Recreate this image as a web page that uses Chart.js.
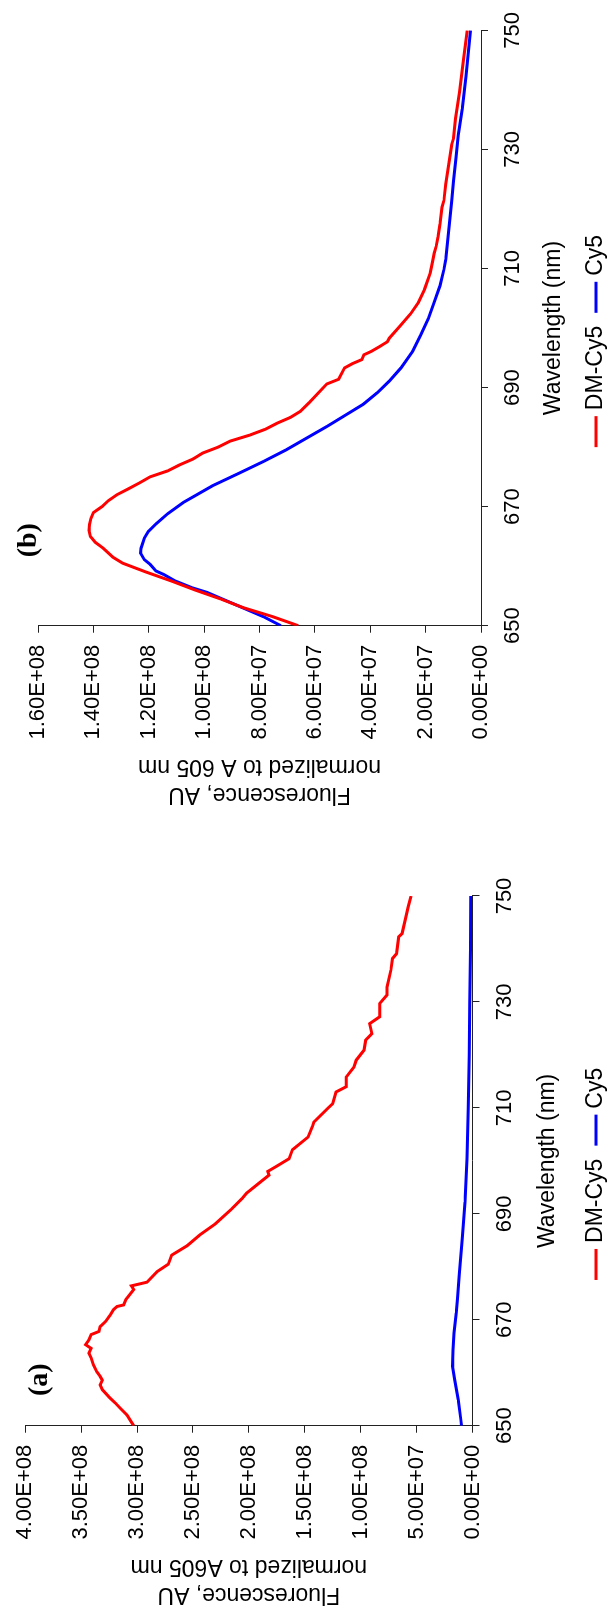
<!DOCTYPE html>
<html>
<head>
<meta charset="utf-8">
<script src="https://cdn.jsdelivr.net/npm/chart.js@4.4.1/dist/chart.umd.min.js"></script>
<style>
  html, body { margin: 0; padding: 0; background: #fff; overflow: hidden; }
  body { width: 612px; height: 1619px; position: relative; }
  /* the figure is laid out landscape and turned a quarter left */
  #figure {
    position: absolute; left: 0; top: 0;
    width: 1619px; height: 612px;
    transform-origin: 0 0;
    transform: translateY(1619px) rotate(-90deg);
  }
  #figure canvas { position: absolute; top: 0; }
  #chartA { left: 0; }
  #chartB { left: 800px; }
</style>
</head>
<body>
<div id="figure">
  <canvas id="chartA" width="800" height="612"></canvas>
  <canvas id="chartB" width="819" height="612"></canvas>
</div>
<script>
// Panel (a)
const wlA_dm = [650, 652.0, 653.3, 654.2, 655.2, 656.8, 657.7, 658.6, 659.3, 660.2, 661.5, 662.8, 663.7, 664.6, 665.3, 666.2, 667.2, 667.8, 668.7, 669.7, 670.9, 671.9, 672.5, 672.8, 673.8, 675.7, 676.4, 677.1, 679.1, 680.5, 682.2, 684.0, 686.0, 688.1, 690.8, 692.9, 693.9, 695.6, 697.3, 698.0, 699.0, 700.4, 702.1, 704.5, 706.6, 707.3, 710.0, 710.8, 713.0, 714.0, 715.8, 717.7, 719.0, 720.9, 722.8, 724.0, 725.9, 727.2, 729.7, 731.3, 732.8, 736.0, 738.2, 739.1, 742.3, 742.9, 744.7, 748.0, 750];
const fluA_dm = [3.03e8, 3.09e8, 3.15e8, 3.19e8, 3.24e8, 3.31e8, 3.33e8, 3.31e8, 3.33e8, 3.36e8, 3.39e8, 3.41e8, 3.43e8, 3.41e8, 3.46e8, 3.43e8, 3.41e8, 3.34e8, 3.33e8, 3.28e8, 3.24e8, 3.21e8, 3.18e8, 3.12e8, 3.10e8, 3.03e8, 3.05e8, 2.91e8, 2.82e8, 2.72e8, 2.69e8, 2.55e8, 2.44e8, 2.30e8, 2.16e8, 2.06e8, 2.02e8, 1.92e8, 1.82e8, 1.83e8, 1.75e8, 1.64e8, 1.61e8, 1.47e8, 1.43e8, 1.42e8, 1.29e8, 1.25e8, 1.22e8, 1.13e8, 1.13e8, 1.06e8, 1.04e8, 0.97e8, 0.955e8, 0.90e8, 0.92e8, 0.83e8, 0.83e8, 0.765e8, 0.765e8, 0.73e8, 0.715e8, 0.68e8, 0.66e8, 0.63e8, 0.61e8, 0.574e8, 0.55e8];
const wlA_cy5 = [650, 651.1, 654.9, 658.6, 661.2, 664.3, 667.5, 671.3, 674, 678.5, 685.3, 692.2, 700.4, 710, 720, 730, 740, 750];
const fluA_cy5 = [9.8e6, 1.04e7, 1.28e7, 1.58e7, 1.79e7, 1.74e7, 1.66e7, 1.45e7, 1.35e7, 1.18e7, 9.2e6, 6.8e6, 5.0e6, 3.8e6, 3.0e6, 2.4e6, 1.9e6, 1.6e6];

// Panel (b)
const wlB_dm = [650, 651.5, 653, 654.5, 656, 657.5, 659, 660.5, 661.5, 663, 664, 665, 666, 667, 668, 669, 670, 671, 672, 673, 674, 675, 676, 677, 678, 679, 680, 681, 682, 683, 684, 685, 686, 687.5, 690.6, 691.4, 693.3, 694.0, 694.7, 695.5, 696.1, 696.9, 697.7, 698.3, 700.5, 702.4, 704.3, 706.5, 709.3, 710.9, 712.6, 713.7, 715.3, 717.5, 720.3, 721.4, 724.2, 726.4, 730.8, 731.9, 735.2, 739.6, 745.1, 750];
const fluB_dm = [6.60e7, 7.51e7, 8.57e7, 9.41e7, 1.033e8, 1.118e8, 1.209e8, 1.294e8, 1.329e8, 1.364e8, 1.393e8, 1.411e8, 1.416e8, 1.414e8, 1.409e8, 1.400e8, 1.369e8, 1.346e8, 1.315e8, 1.273e8, 1.233e8, 1.195e8, 1.132e8, 1.089e8, 1.040e8, 1.005e8, 9.49e7, 9.06e7, 8.36e7, 7.79e7, 7.37e7, 6.88e7, 6.53e7, 6.20e7, 5.57e7, 5.14e7, 4.93e7, 4.65e7, 4.30e7, 4.23e7, 3.95e7, 3.66e7, 3.38e7, 3.31e7, 2.89e7, 2.54e7, 2.26e7, 2.04e7, 1.83e7, 1.76e7, 1.69e7, 1.62e7, 1.55e7, 1.48e7, 1.41e7, 1.34e7, 1.27e7, 1.20e7, 1.06e7, 9.9e6, 9.2e6, 7.8e6, 6.3e6, 5.0e6];
const wlB_cy5 = [650, 651.5, 653, 654.5, 655.6, 656.4, 657.5, 658.6, 659.2, 660.3, 661.1, 662.2, 663.0, 664.7, 665.8, 667.1, 668.8, 670.7, 673.5, 675.7, 677.6, 679.5, 681.5, 683.5, 685.5, 687.2, 689.2, 691.1, 693.3, 696.1, 698.8, 701.6, 704.3, 707.1, 709.8, 711.5, 714.8, 718.1, 721.4, 724.7, 728.6, 732.4, 736.8, 742.3, 750];
const fluB_cy5 = [7.23e7, 7.85e7, 8.60e7, 9.35e7, 9.90e7, 1.045e8, 1.104e8, 1.146e8, 1.174e8, 1.195e8, 1.216e8, 1.230e8, 1.228e8, 1.216e8, 1.202e8, 1.174e8, 1.132e8, 1.075e8, 9.70e7, 8.70e7, 7.85e7, 7.05e7, 6.30e7, 5.55e7, 4.85e7, 4.25e7, 3.73e7, 3.31e7, 2.89e7, 2.47e7, 2.18e7, 1.90e7, 1.69e7, 1.48e7, 1.34e7, 1.27e7, 1.20e7, 1.13e7, 1.06e7, 9.9e6, 9.0e6, 8.2e6, 6.8e6, 5.4e6, 3.8e6];

const wlTicks = [650, 670, 690, 710, 730, 750];

const FONT = "'Liberation Sans', Arial, sans-serif";
const AXIS = "#222";
Chart.defaults.font.family = FONT;
Chart.defaults.color = "#000";

// 4.00E+08 style labels
function sci(v) {
  const parts = Number(v).toExponential(2).split("e");
  return parts[0] + "E" + parts[1][0] + parts[1].slice(1).padStart(2, "0");
}

function toPoints(xs, ys) {
  return xs.map((x, i) => ({ x: x, y: ys[i] }));
}

// panel letter and the line legend under the axis title
const decorations = {
  id: "decorations",
  afterDraw(chart, args, opts) {
    const ctx = chart.ctx;
    const area = chart.chartArea;
    ctx.save();
    ctx.font = "bold 28px 'Liberation Serif', 'Times New Roman', serif";
    ctx.fillStyle = "#000";
    ctx.textAlign = "center";
    ctx.textBaseline = "middle";
    ctx.fillText(opts.panel, area.left + opts.panelX, area.top + opts.panelY);

    ctx.font = "23px " + FONT;
    ctx.textAlign = "left";
    const lineLen = 31, gapText = 6, gapItem = 13;
    const items = chart.data.datasets.map(ds => ({
      text: ds.label, color: ds.borderColor, w: ctx.measureText(ds.label).width
    }));
    let total = 0;
    items.forEach((it, i) => { total += lineLen + gapText + it.w + (i ? gapItem : 0); });
    let x = (area.left + area.right) / 2 + opts.legendShift - total / 2;
    items.forEach(it => {
      ctx.fillStyle = it.color;
      ctx.fillRect(x, opts.legendY - 1.5, lineLen, 3);
      x += lineLen + gapText;
      ctx.fillStyle = "#000";
      ctx.fillText(it.text, x, opts.legendY);
      x += it.w + gapItem;
    });
    ctx.restore();
  }
};

function makeChart(id, cfg) {
  return new Chart(document.getElementById(id), {
    type: "line",
    data: {
      datasets: [
        { label: "DM-Cy5", data: toPoints(cfg.wlDm, cfg.fluDm), borderColor: "#ff0000", borderWidth: 3, pointRadius: 0, fill: false },
        { label: "Cy5", data: toPoints(cfg.wlCy5, cfg.fluCy5), borderColor: "#0000ff", borderWidth: 3, pointRadius: 0, fill: false }
      ]
    },
    options: {
      responsive: false,
      animation: false,
      layout: { padding: cfg.padding },
      plugins: {
        legend: { display: false },
        tooltip: { enabled: false },
        decorations: cfg.deco
      },
      scales: {
        x: {
          type: "linear", min: 650, max: 750,
          afterBuildTicks: s => { s.ticks = wlTicks.map(v => ({ value: v })); },
          ticks: { font: { size: 22 }, padding: 12, maxRotation: 0, autoSkip: false },
          grid: { drawOnChartArea: false, color: AXIS, tickLength: 7 },
          border: { color: AXIS, width: 1 },
          title: { display: true, text: "Wavelength (nm)", font: { size: 23 }, padding: { top: 0, bottom: cfg.xTitlePad } },
          afterFit: s => { s.height = cfg.xHeight; }
        },
        y: {
          min: 0, max: cfg.yMax,
          ticks: { stepSize: cfg.yStep, callback: sci, font: { size: 22 }, padding: 12 },
          grid: { drawOnChartArea: false, color: AXIS, tickLength: 7 },
          border: { color: AXIS, width: 1 },
          title: { display: true, text: cfg.yTitle, font: { size: 23 }, padding: { top: 11, bottom: 0 } },
          afterFit: s => { s.width = 193.3; }
        }
      }
    },
    plugins: [decorations]
  });
}

makeChart("chartA", {
  wlDm: wlA_dm, fluDm: fluA_dm, wlCy5: wlA_cy5, fluCy5: fluA_cy5,
  yMax: 4e8, yStep: 5e7,
  yTitle: ["Fluorescence, AU", "normalized to A605 nm"],
  padding: { left: 0, right: 77, top: 24.7, bottom: 0 },
  xHeight: 139.5, xTitlePad: 50.7,
  deco: { panel: "(a)", panelX: 46, panelY: 15, legendY: 596, legendShift: -13 }
});

makeChart("chartB", {
  wlDm: wlB_dm, fluDm: fluB_dm, wlCy5: wlB_cy5, fluCy5: fluB_cy5,
  yMax: 1.6e8, yStep: 2e7,
  yTitle: ["Fluorescence, AU", "normalized to A 605 nm"],
  padding: { left: 0, right: 20.7, top: 38, bottom: 0 },
  xHeight: 131, xTitlePad: 44.2,
  deco: { panel: "(b)", panelX: 85.5, panelY: -9, legendY: 596, legendShift: -13 }
});
</script>
</body>
</html>
